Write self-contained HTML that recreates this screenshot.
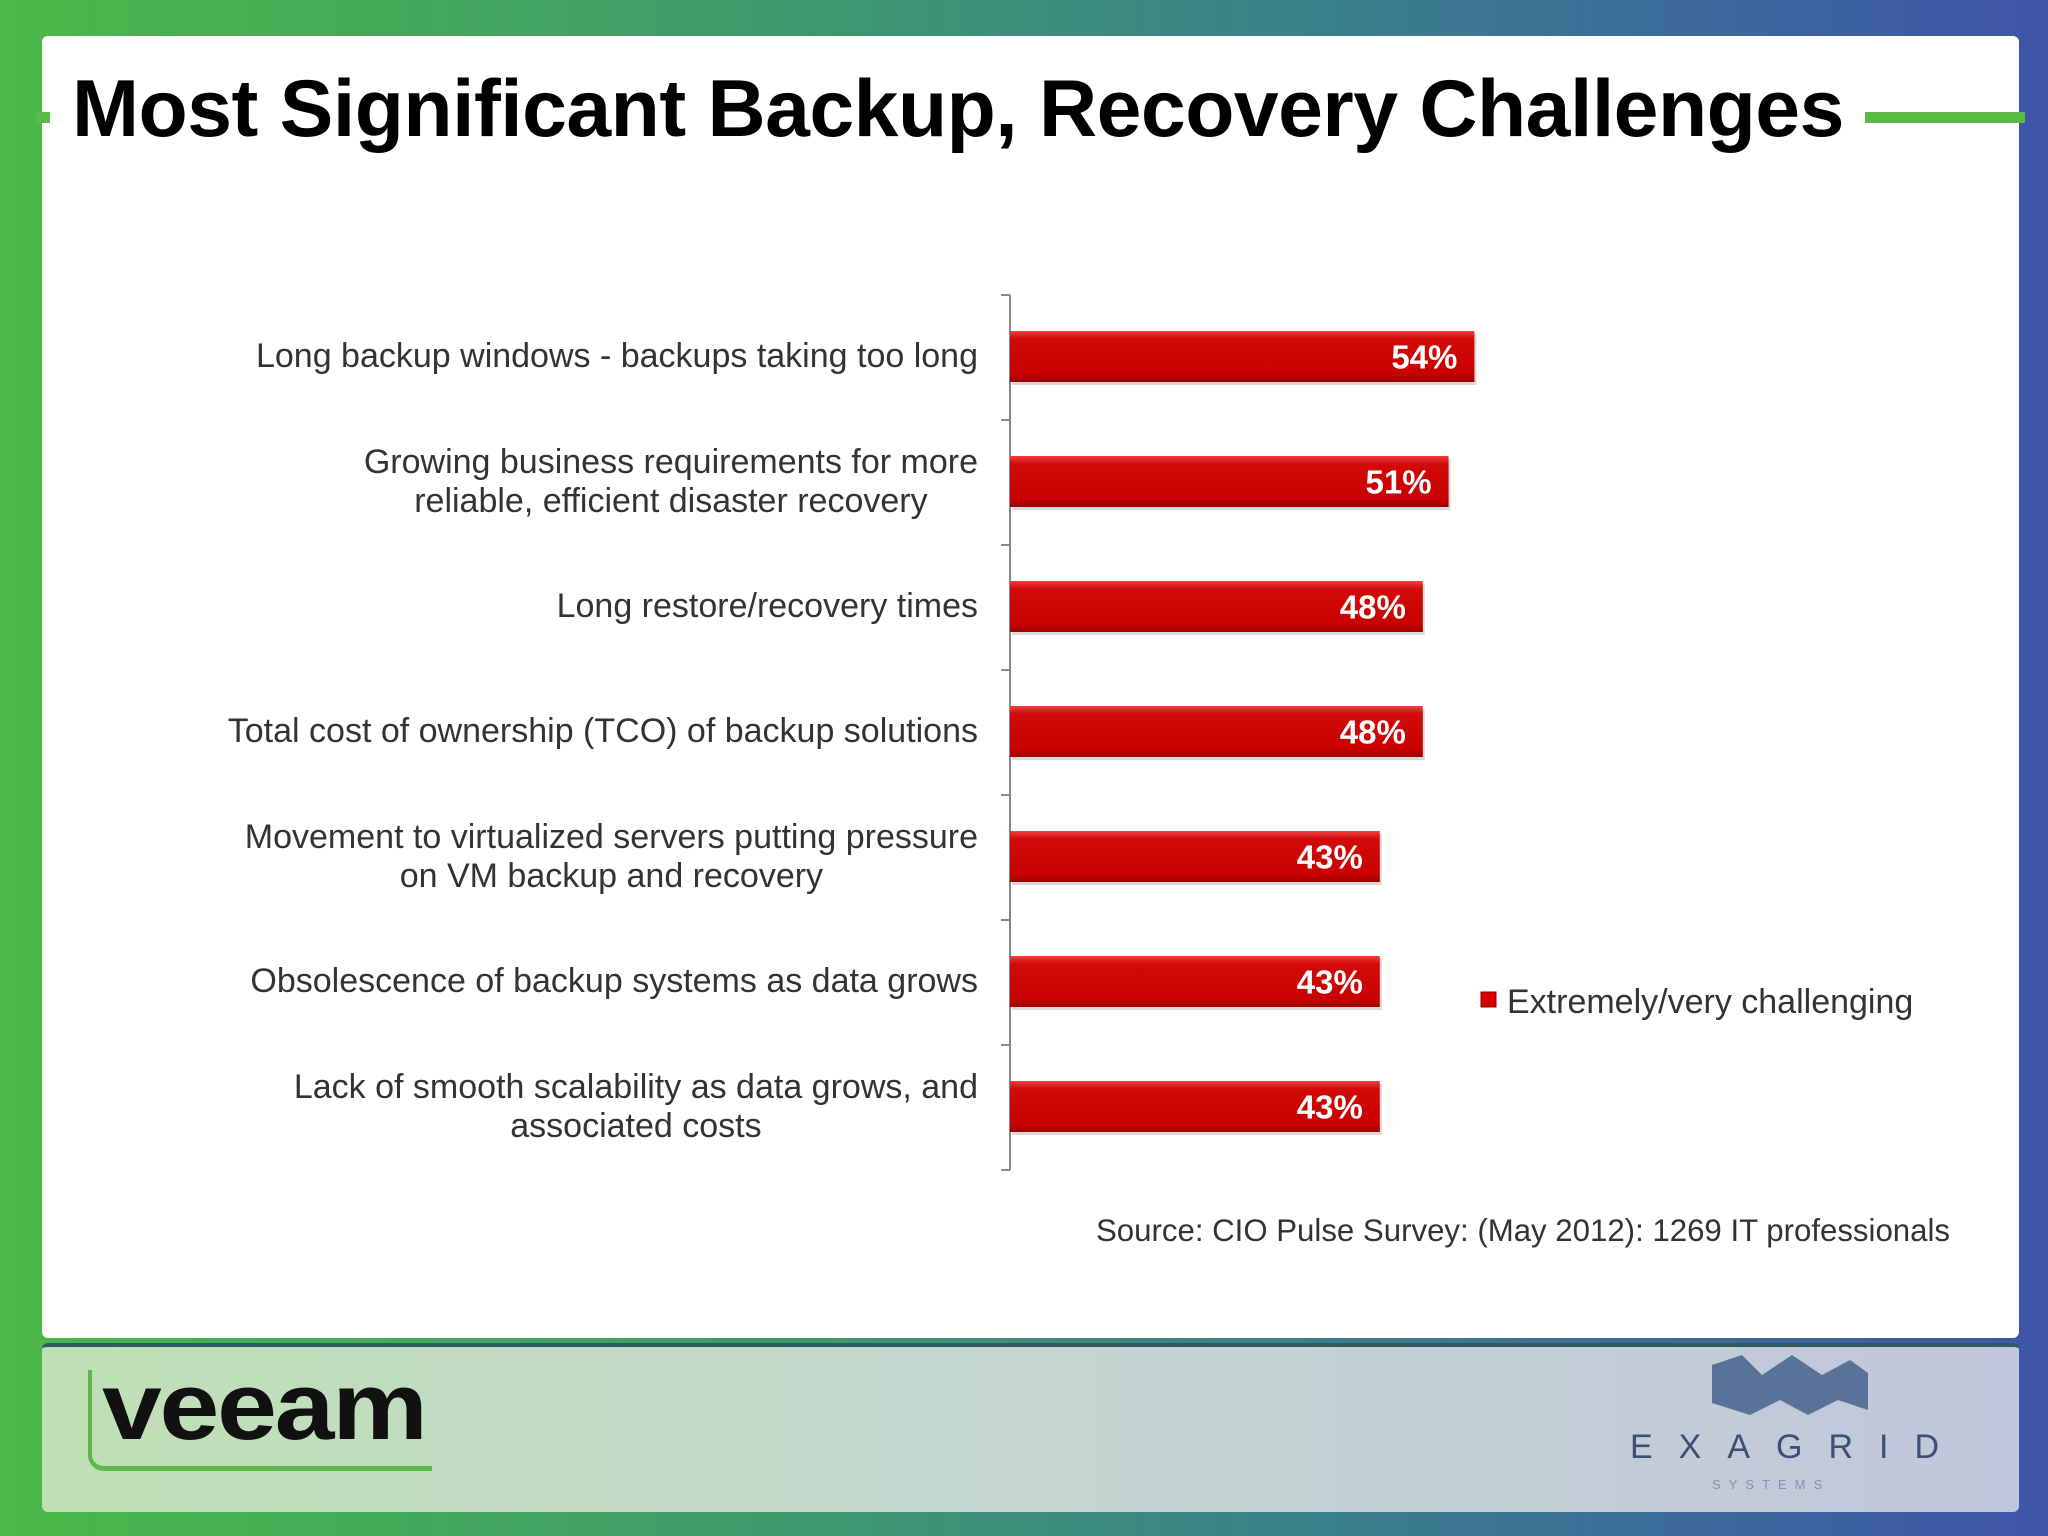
<!DOCTYPE html>
<html><head><meta charset="utf-8"><style>
html,body{margin:0;padding:0}
body{width:2048px;height:1536px;position:relative;overflow:hidden;font-family:"Liberation Sans",Arial,sans-serif;background:linear-gradient(90deg,#4cb848 0%,#3f9d6a 35%,#3a7f8c 65%,#3e55a8 100%)}
.abs{position:absolute}
.lbl{position:absolute;right:1070px;font-size:34px;color:#333;text-align:center;line-height:39px;white-space:nowrap}
</style></head><body>
<div class="abs" style="left:42px;top:36px;width:1977px;height:1302px;background:#fff;border-radius:6px"></div>
<div class="abs" style="left:42px;top:1343px;width:1977px;height:165px;background:linear-gradient(90deg,#bfe0b4 0%,#c3d8cf 45%,#c2c6dc 100%);border-radius:6px;border-top:4px solid #2f5a60"></div>
<div class="abs" style="left:1865px;top:112px;width:160px;height:11px;background:#5ab947"></div>
<div class="abs" style="left:36px;top:112px;width:14px;height:11px;background:#5ab947"></div>
<div class="abs" style="left:72px;top:63px;font-size:80.5px;font-weight:bold;color:#000;white-space:nowrap;letter-spacing:-0.5px">Most Significant Backup, Recovery Challenges</div>

<svg class="abs" style="left:0;top:0" width="2048" height="1536">
<g id="axis"></g>
<g id="bars"></g>
<rect x="1481" y="992" width="15" height="15" fill="#d40000" stroke="#900"/>
<text x="1507" y="1013" font-size="34" fill="#333" font-family="Liberation Sans, sans-serif">Extremely/very challenging</text>
<text x="1096" y="1241" font-size="31.2" fill="#333" font-family="Liberation Sans, sans-serif">Source: CIO Pulse Survey: (May 2012): 1269 IT professionals</text>
</svg>
<div id="labels"></div>

<div class="abs" style="left:88px;top:1370px;width:340px;height:96px;border-left:4px solid #5ab947;border-bottom:5px solid #5ab947;border-radius:0 0 0 16px">
<div style="position:absolute;left:10px;top:-18px;font-size:96px;font-weight:bold;color:#111;letter-spacing:-2px;transform:scaleX(1.12);transform-origin:left">veeam</div></div>
<svg class="abs" style="left:1700px;top:1355px" width="180" height="70">
<polygon points="12,10 42,0 62,20 92,0 122,20 150,5 168,18 168,55 138,45 108,60 80,45 50,60 12,48" fill="#46638c" opacity="0.85"/>
</svg>
<div class="abs" style="left:1630px;top:1428px;font-size:34px;color:#3d4f73;letter-spacing:26px;white-space:nowrap">EXAGRID</div>
<div class="abs" style="left:1712px;top:1477px;font-size:13px;color:#8a90a8;letter-spacing:8px">SYSTEMS</div>

<script>
const categories=[["Long backup windows - backups taking too long"],["Growing business requirements for more","reliable, efficient disaster recovery"],["Long restore/recovery times"],["Total cost of ownership (TCO) of backup solutions"],["Movement to virtualized servers putting pressure","on VM backup and recovery"],["Obsolescence of backup systems as data grows"],["Lack of smooth scalability as data grows, and","associated costs"]];
const values=[54,51,48,48,43,43,43];
const valueLabels=["54%","51%","48%","48%","43%","43%","43%"];
const NS="http://www.w3.org/2000/svg";
const x0=1010,pxPer=8.6,top0=295,band=125,barH=51;
const xs=v=>x0+v*pxPer;
const yb=i=>top0+i*band;
const axis=document.getElementById('axis'),bars=document.getElementById('bars'),labels=document.getElementById('labels');
function mk(t,a){const e=document.createElementNS(NS,t);for(const k in a)e.setAttribute(k,a[k]);return e;}
const ax=mk('line',{x1:x0,y1:top0,x2:x0,y2:yb(categories.length),stroke:'#888','stroke-width':2});
axis.appendChild(ax);
for(let i=0;i<=categories.length;i++){const t=mk('line',{x1:x0-9,y1:yb(i),x2:x0,y2:yb(i),stroke:'#888','stroke-width':2});axis.appendChild(t);}
const defs=mk('defs',{});defs.innerHTML='<linearGradient id="bg" x1="0" y1="0" x2="0" y2="1"><stop offset="0" stop-color="#f04040"/><stop offset="0.15" stop-color="#d20a0a"/><stop offset="0.85" stop-color="#c80000"/><stop offset="1" stop-color="#9a0000"/></linearGradient>';
bars.appendChild(defs);
values.forEach((v,i)=>{
 const cy=yb(i)+band/2-1;
 const sh=mk('rect',{x:x0+2,y:cy-barH/2+3,width:xs(v)-x0,height:barH,fill:'#000',opacity:0.15});
 bars.appendChild(sh);
 const r=mk('rect',{x:x0,y:cy-barH/2,width:xs(v)-x0,height:barH,fill:'url(#bg)'});
 
 
 bars.appendChild(r);
 const t=mk('text',{x:xs(v)-17,y:cy+12,'text-anchor':'end','font-size':33,'font-weight':'bold',fill:'#fff','font-family':'Liberation Sans, sans-serif'});
 t.textContent=valueLabels[i];
 
 
 bars.appendChild(t);
 const d=document.createElement('div');
 d.className='lbl';
 
 
 d.innerHTML=categories[i].join('<br>');
 d.style.top=(cy-categories[i].length*39/2)+'px';
 labels.appendChild(d);
});
</script>
</body></html>
